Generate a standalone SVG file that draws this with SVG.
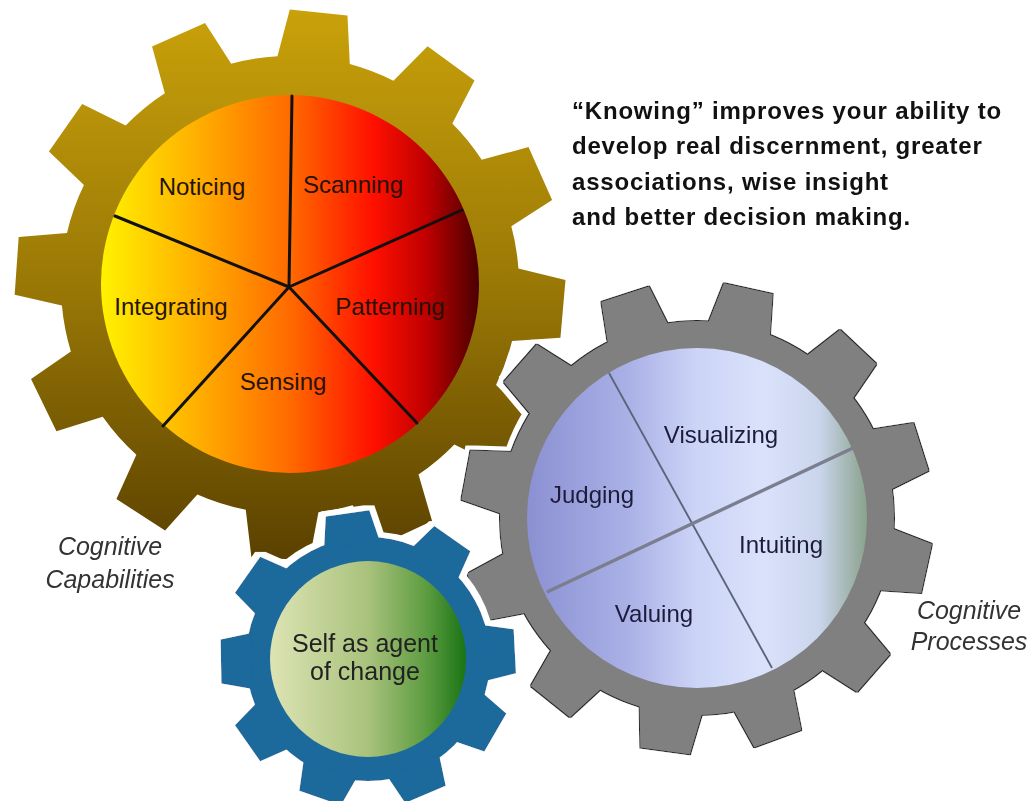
<svg xmlns="http://www.w3.org/2000/svg" width="1036" height="801" viewBox="0 0 1036 801">
<style>
.lbl{font-family:"Liberation Sans",Arial,sans-serif;font-size:24px;text-anchor:middle}
.lblb{fill:#24140a}
.lblg{fill:#1c1c3a}
.cap{font-family:"Liberation Sans",Arial,sans-serif;font-style:italic;font-size:25px;text-anchor:middle;fill:#333}
.note{font-family:"Liberation Sans",Arial,sans-serif;font-weight:bold;font-size:24px;letter-spacing:0.8px;fill:#111}
.spk{stroke:#111;stroke-width:3;stroke-linecap:round}
</style>
<defs>
<linearGradient id="gGold" x1="0" y1="10" x2="0" y2="560" gradientUnits="userSpaceOnUse">
<stop offset="0" stop-color="#c9a10a"/><stop offset="0.5" stop-color="#9a7806"/><stop offset="1" stop-color="#5a4100"/>
</linearGradient>
<linearGradient id="gFire" x1="101" y1="0" x2="479" y2="0" gradientUnits="userSpaceOnUse">
<stop offset="0" stop-color="#fff200"/><stop offset="0.25" stop-color="#ffb000"/><stop offset="0.5" stop-color="#ff6a00"/><stop offset="0.72" stop-color="#ff1000"/><stop offset="0.86" stop-color="#c00000"/><stop offset="1" stop-color="#4a0000"/>
</linearGradient>
<linearGradient id="gLav" x1="527" y1="0" x2="867" y2="0" gradientUnits="userSpaceOnUse">
<stop offset="0" stop-color="#8b90d2"/><stop offset="0.3" stop-color="#aab1e6"/><stop offset="0.5" stop-color="#ccd4f7"/><stop offset="0.7" stop-color="#dae2fb"/><stop offset="0.86" stop-color="#cad5ec"/><stop offset="1" stop-color="#8aa28c"/>
</linearGradient>
<linearGradient id="gGreen" x1="270" y1="0" x2="466" y2="0" gradientUnits="userSpaceOnUse">
<stop offset="0" stop-color="#dde4b4"/><stop offset="0.5" stop-color="#a9c27c"/><stop offset="0.8" stop-color="#5c9c40"/><stop offset="1" stop-color="#1a7414"/>
</linearGradient>
<polygon id="tBig" points="-37,-222 37,-222 29,-274 -29,-274"/>
<polygon id="tGray" points="-32,-190 32,-190 25,-235 -25,-235"/>
<polygon id="tBlue" points="-28,-116 28,-116 22,-147 -22,-147"/>
<clipPath id="cBig">
<circle cx="290" cy="285" r="229"/>
<use href="#tBig" transform="translate(290 285) rotate(-86)"/>
<use href="#tBig" transform="translate(290 285) rotate(-55)"/>
<use href="#tBig" transform="translate(290 285) rotate(-24)"/>
<use href="#tBig" transform="translate(290 285) rotate(6)"/>
<use href="#tBig" transform="translate(290 285) rotate(36)"/>
<use href="#tBig" transform="translate(290 285) rotate(66)"/>
<use href="#tBig" transform="translate(290 285) rotate(95)"/>
<use href="#tBig" transform="translate(290 285) rotate(125)"/>
<use href="#tBig" transform="translate(290 285) rotate(155)"/>
<use href="#tBig" transform="translate(290 285) rotate(182)"/>
<use href="#tBig" transform="translate(290 285) rotate(213)"/>
<use href="#tBig" transform="translate(290 285) rotate(244)"/>
</clipPath>
<filter id="fGray" x="-0.1" y="-0.1" width="1.2" height="1.2">
<feMorphology in="SourceAlpha" operator="dilate" radius="1.3" result="a"/>
<feFlood flood-color="#262626" result="c1"/>
<feComposite in="c1" in2="a" operator="in" result="dark"/>
<feMorphology in="SourceAlpha" operator="dilate" radius="4.5" result="b"/>
<feFlood flood-color="#ffffff" result="c2"/>
<feComposite in="c2" in2="b" operator="in" result="white"/>
<feMerge><feMergeNode in="white"/><feMergeNode in="dark"/><feMergeNode in="SourceGraphic"/></feMerge>
</filter>
<filter id="fBlue" x="-0.1" y="-0.1" width="1.2" height="1.2">
<feMorphology in="SourceAlpha" operator="dilate" radius="4.5" result="b"/>
<feFlood flood-color="#ffffff" result="c2"/>
<feComposite in="c2" in2="b" operator="in" result="white"/>
<feMerge><feMergeNode in="white"/><feMergeNode in="SourceGraphic"/></feMerge>
</filter>
</defs>
<rect width="1036" height="801" fill="#ffffff"/>

<g id="gear-capabilities">
<rect x="0" y="0" width="580" height="570" fill="url(#gGold)" clip-path="url(#cBig)"/>
<circle cx="290" cy="284" r="189" fill="url(#gFire)"/>
<g class="spk">
<line x1="289" y1="287" x2="292" y2="96"/>
<line x1="289" y1="287" x2="462" y2="210"/>
<line x1="289" y1="287" x2="417" y2="423"/>
<line x1="289" y1="287" x2="163" y2="426"/>
<line x1="289" y1="287" x2="115" y2="216"/>
</g>
<text class="lbl lblb" x="202" y="195">Noticing</text>
<text class="lbl lblb" x="353" y="193">Scanning</text>
<text class="lbl lblb" x="171" y="315">Integrating</text>
<text class="lbl lblb" x="390" y="315">Patterning</text>
<text class="lbl lblb" x="283" y="390">Sensing</text>
</g>

<g id="gear-processes">
<g fill="#808080" filter="url(#fGray)">
<circle cx="697" cy="518" r="197"/>
<use href="#tGray" transform="translate(697 518) rotate(-79.5)"/>
<use href="#tGray" transform="translate(697 518) rotate(-48.8)"/>
<use href="#tGray" transform="translate(697 518) rotate(-17.8)"/>
<use href="#tGray" transform="translate(697 518) rotate(12.6)"/>
<use href="#tGray" transform="translate(697 518) rotate(43.3)"/>
<use href="#tGray" transform="translate(697 518) rotate(72.4)"/>
<use href="#tGray" transform="translate(697 518) rotate(102.4)"/>
<use href="#tGray" transform="translate(697 518) rotate(131.3)"/>
<use href="#tGray" transform="translate(697 518) rotate(159.9)"/>
<use href="#tGray" transform="translate(697 518) rotate(187.8)"/>
<use href="#tGray" transform="translate(697 518) rotate(218.6)"/>
<use href="#tGray" transform="translate(697 518) rotate(250.3)"/>
</g>
<circle cx="697" cy="518" r="170" fill="url(#gLav)"/>
<line x1="609" y1="373" x2="772" y2="668" stroke="#5a6478" stroke-width="1.8"/>
<line x1="547" y1="592" x2="853" y2="448" stroke="#7a7e8e" stroke-width="3.5"/>
<text class="lbl lblg" x="721" y="443">Visualizing</text>
<text class="lbl lblg" x="592" y="503">Judging</text>
<text class="lbl lblg" x="781" y="553">Intuiting</text>
<text class="lbl lblg" x="654" y="622">Valuing</text>
</g>

<g id="gear-self">
<g fill="#1a6a9c" filter="url(#fBlue)">
<circle cx="368" cy="659" r="122"/>
<use href="#tBlue" transform="translate(368 659) rotate(-8)"/>
<use href="#tBlue" transform="translate(368 659) rotate(35)"/>
<use href="#tBlue" transform="translate(368 659) rotate(87)"/>
<use href="#tBlue" transform="translate(368 659) rotate(120)"/>
<use href="#tBlue" transform="translate(368 659) rotate(157)"/>
<use href="#tBlue" transform="translate(368 659) rotate(199)"/>
<use href="#tBlue" transform="translate(368 659) rotate(235)"/>
<use href="#tBlue" transform="translate(368 659) rotate(269)"/>
<use href="#tBlue" transform="translate(368 659) rotate(-55)"/>
</g>
<circle cx="368" cy="659" r="98" fill="url(#gGreen)"/>
<text class="lbl" x="365" y="652" style="font-size:25px;fill:#222">Self as agent</text>
<text class="lbl" x="365" y="680" style="font-size:25px;fill:#222">of change</text>
</g>

<g id="label-capabilities">
<text class="cap" x="110" y="555">Cognitive</text>
<text class="cap" x="110" y="588">Capabilities</text>
</g>
<g id="label-processes">
<text class="cap" x="969" y="619">Cognitive</text>
<text class="cap" x="969" y="650">Processes</text>
</g>
<g id="note">
<text class="note" x="572" y="119">“Knowing” improves your ability to</text>
<text class="note" x="572" y="154">develop real discernment, greater</text>
<text class="note" x="572" y="190">associations, wise insight</text>
<text class="note" x="572" y="225">and better decision making.</text>
</g>
<g id="connectors"/>
</svg>
